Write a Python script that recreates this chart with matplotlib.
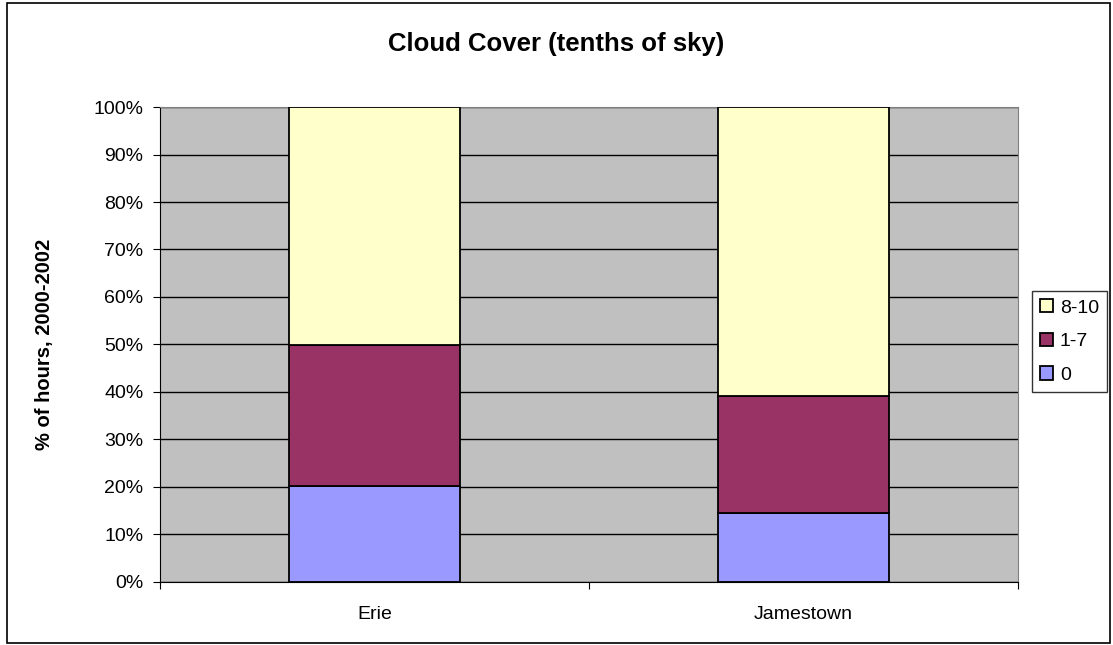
import numpy as np
import matplotlib.pyplot as plt
from matplotlib.patches import Rectangle

plt.rcParams['font.family'] = ['Liberation Sans', 'DejaVu Sans']

# data (percent of hours)
stations = ['Erie', 'Jamestown']
series = ['0', '1-7', '8-10']
clear = [20.2, 14.5]
partly = [29.7, 24.7]
cloudy = [50.1, 60.8]
colours = ['#9999FF', '#993366', '#FFFFCC']
yticks = list(range(0, 101, 10))

fig = plt.figure(figsize=(11.13, 6.45), dpi=100)
ax = fig.add_axes([0.1438, 0.0977, 0.771, 0.7364])
ax.set_facecolor('#C0C0C0')

x = np.arange(len(stations))
bottom = np.zeros(len(stations))
for vals, col, name in zip([clear, partly, cloudy], colours, series):
    ax.bar(x, vals, 0.4, bottom=bottom, color=col, edgecolor='black',
           linewidth=1.3, label=name, zorder=3)
    bottom += np.array(vals)

ax.set_xlim(-0.5, 1.5)
ax.set_ylim(0, 100)
ax.set_yticks(yticks)
ax.set_yticklabels([f'{t}%' for t in yticks], fontsize=14)
ax.yaxis.grid(True, color='black', linewidth=1)
ax.set_axisbelow(True)

# category separators as ticks on the x axis
ax.set_xticks([-0.5, 0.5, 1.5])
ax.set_xticklabels([])
ax.set_xticks(x, minor=True)
ax.set_xticklabels(stations, minor=True, fontsize=14)
ax.tick_params(axis='x', which='minor', length=0, pad=17)
ax.tick_params(axis='x', which='major', length=5, direction='out')
ax.tick_params(axis='y', length=5, direction='out', pad=7)

ax.spines['top'].set_color('#808080')
ax.spines['right'].set_color('#808080')
ax.spines['left'].set_color('black')
ax.spines['bottom'].set_color('black')

fig.text(45 / 1113, 0.466, '% of hours, 2000-2002', fontsize=14.5, fontweight='bold',
         rotation=90, ha='center', va='center')
fig.text(0.5, 0.932, 'Cloud Cover (tenths of sky)', fontsize=18.5, fontweight='bold',
         ha='center', va='center')

handles, labels = ax.get_legend_handles_labels()
leg = fig.legend(handles[::-1], labels[::-1], loc='center left',
                 bbox_to_anchor=(1032 / 1113, 0.4705), fontsize=14, frameon=True,
                 fancybox=False, edgecolor='black', handlelength=0.67,
                 handleheight=0.67, handletextpad=0.36, borderpad=0.4,
                 labelspacing=0.83, borderaxespad=0)
leg.get_frame().set_linewidth(1)

# outer chart border
fig.patches.append(Rectangle((7 / 1113, 2 / 645), 1103 / 1113, 640 / 645,
                             transform=fig.transFigure, fill=False,
                             edgecolor='black', linewidth=1.2))

fig.savefig('out.png', dpi=100)
